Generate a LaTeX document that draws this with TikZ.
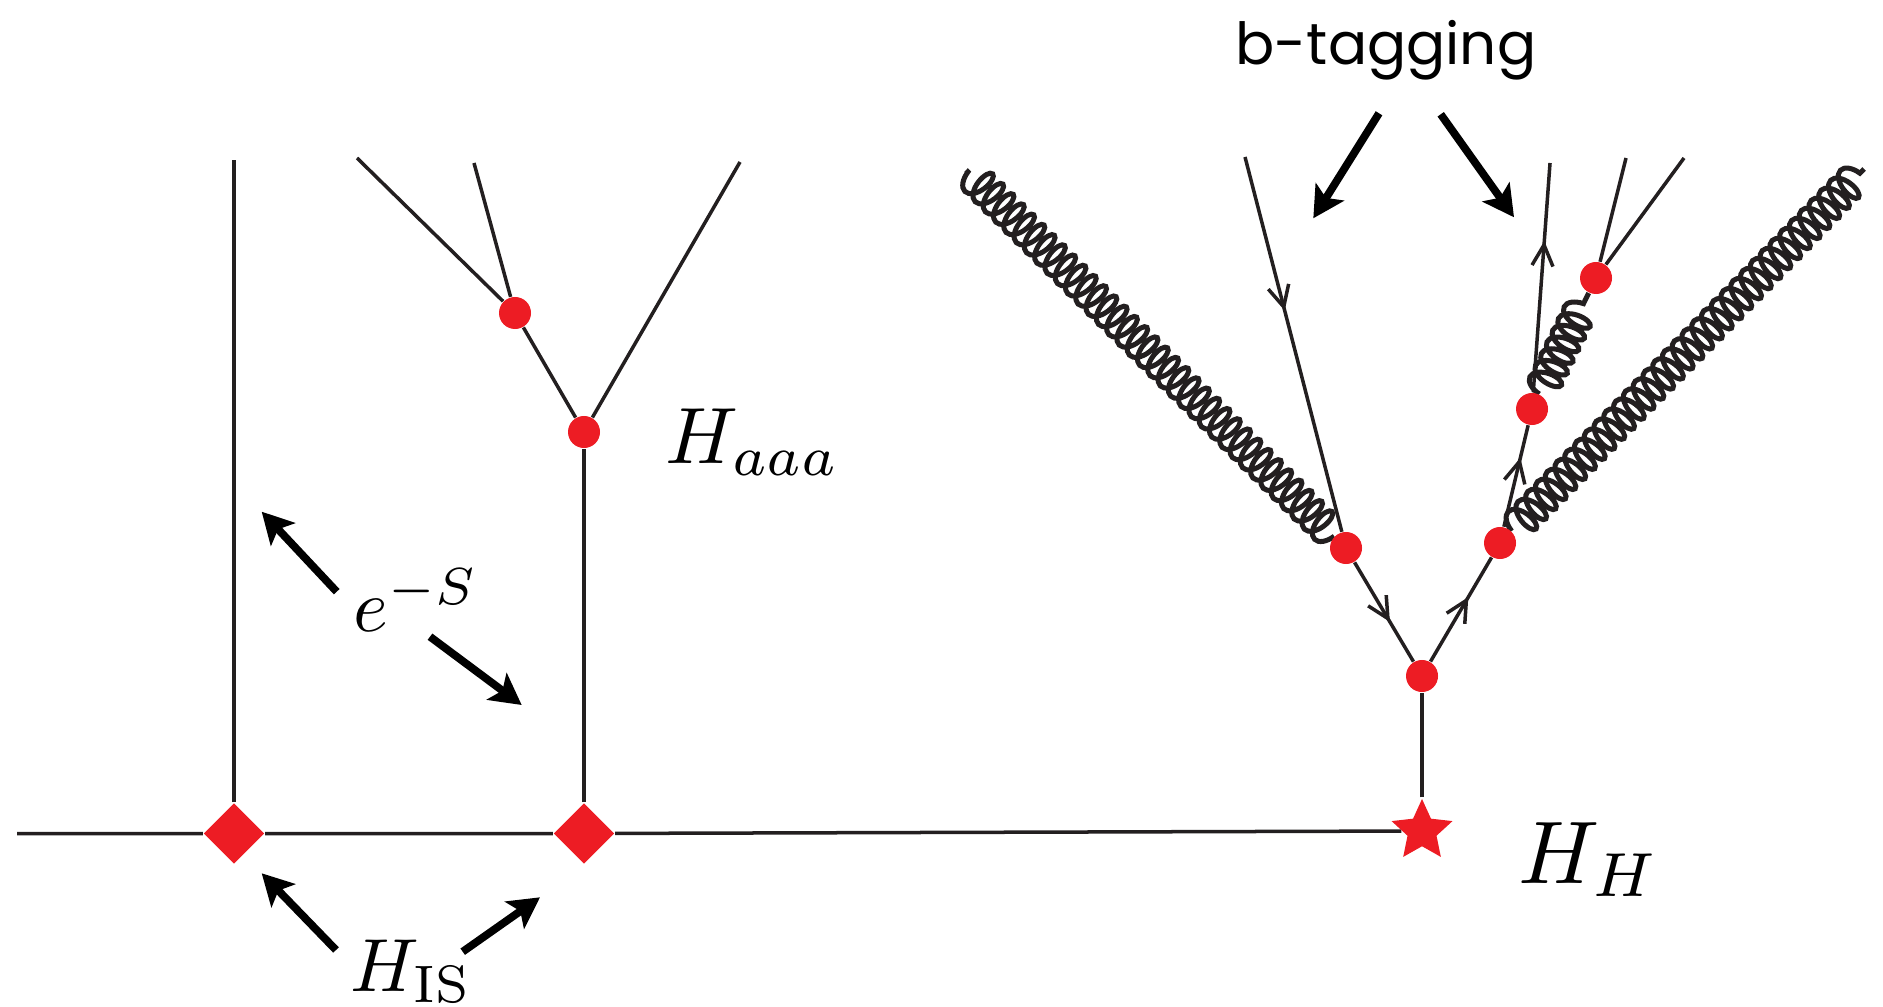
\documentclass[tikz,border=0pt]{standalone}
\usepackage{fontspec}
\usepackage{graphicx}
\newfontfamily\tagfont{Poppins}
\usetikzlibrary{arrows.meta,decorations.pathmorphing,decorations.markings,shapes.geometric,backgrounds}
\definecolor{vred}{RGB}{237,28,36}
\definecolor{ink}{RGB}{35,31,32}
\begin{document}
\begin{tikzpicture}[x=0.01cm,y=-0.01cm,
  line/.style={draw=ink,line width=0.035cm},
  qline/.style={line,postaction={decorate},decoration={markings,mark=at position #1 with {\arrow{Straight Barb[length=0.21cm,width=0.21cm]}}}},
  gluon/.style={draw=ink,line width=0.05cm,decorate,decoration={coil,amplitude=0.16cm,segment length=0.145cm,aspect=0.5}},
  vtx/.style={circle,fill=vred,inner sep=0,minimum size=0.32cm},
  isv/.style={diamond,fill=vred,inner sep=0,minimum width=0.61cm,minimum height=0.61cm},
  hv/.style={star,star points=5,star point ratio=2.1,fill=vred,inner sep=0,minimum size=0.64cm},
  bigarrow/.style={draw=black,line width=0.078cm,-{Stealth[length=0.31cm,width=0.33cm,inset=0.07cm]}},
  lab/.style={anchor=base west,inner sep=0}
]
\useasboundingbox (0,0) rectangle (1883,1007);

% ---- vertices ----
\coordinate (hl) at (17,833.5);
\node[isv] (is1) at (234,833.5) {};
\node[isv] (is2) at (584,833.5) {};
\node[hv] (hh) at (1422,831) {};
\coordinate (l1top) at (234,160);
\node[vtx] (a2) at (584,432) {};
\node[vtx] (a1) at (515,313) {};
\coordinate (a1l) at (357,158);
\coordinate (a1m) at (474,163);
\coordinate (a2r) at (740,162);

\node[vtx] (h0) at (1422,676) {};
\node[vtx] (bL) at (1346,548) {};
\node[vtx] (bR) at (1500,543) {};
\node[vtx] (bM) at (1532,409) {};
\node[vtx] (bU) at (1596,278) {};
\coordinate (qLtop) at (1245,157);
\coordinate (qRtop) at (1550,163);
\coordinate (u1) at (1626,158);
\coordinate (u2) at (1684,158);
\coordinate (g1end) at (966,170);
\coordinate (g3end) at (1864,169);

\begin{pgfonlayer}{background}
\draw[line] (hl) -- (is1) -- (is2) -- (hh);
\draw[line] (is1) -- (l1top);
\draw[line] (is2) -- (a2);
\draw[line] (a2) -- (a1);
\draw[line] (a2) -- (a2r);
\draw[line] (a1) -- (a1l);
\draw[line] (a1) -- (a1m);

\draw[line] (hh) -- (h0);
\draw[qline=0.41] (qLtop) -- (bL);
\draw[qline=0.6] (bL) -- (h0);
\draw[qline=0.62] (h0) -- (bR);
\draw[qline=0.68] (bR) -- (bM);
\draw[qline=0.66] (bM) -- (qRtop);
\draw[line] (bU) -- (u1);
\draw[line] (bU) -- (u2);
\draw[gluon] (bL) -- (g1end);
\draw[gluon,decoration={segment length=0.13cm}] (bM) -- (bU);
\draw[gluon,decoration={segment length=0.14cm}] (bR) -- (g3end);
\end{pgfonlayer}

% ---- labels ----
\node[lab] (haaa) at (665,463.3) {\scalebox{2.27}{$H_{aaa}$}};
\node[lab] (hH) at (1518,883.3) {\scalebox{2.53}{$H_H$}};
\node[lab] (his) at (350,991.7) {\scalebox{2.14}{$H_{\mathrm{IS}}$}};
\node[lab] (es) at (353,631.7) {\scalebox{2.12}{$e^{-S}$}};
\node[lab,font=\tagfont\fontsize{16.5}{20}\selectfont] (btag) at (1235,65) {b-tagging};

% ---- pointer arrows ----
\coordinate (e1s) at (336.7,591.7); \coordinate (e1e) at (261.7,511.7);
\coordinate (e2s) at (430,636.7);   \coordinate (e2e) at (521.7,705);
\coordinate (i1s) at (336,950);     \coordinate (i1e) at (261.7,873.3);
\coordinate (i2s) at (462.7,951.7); \coordinate (i2e) at (540,897.3);
\coordinate (t1s) at (1379,113.3);  \coordinate (t1e) at (1313.3,218.3);
\coordinate (t2s) at (1440.7,114.3);\coordinate (t2e) at (1514,217.3);
\draw[bigarrow] (e1s) -- (e1e);
\draw[bigarrow] (e2s) -- (e2e);
\draw[bigarrow] (i1s) -- (i1e);
\draw[bigarrow] (i2s) -- (i2e);
\draw[bigarrow] (t1s) -- (t1e);
\draw[bigarrow] (t2s) -- (t2e);
\end{tikzpicture}
\end{document}
